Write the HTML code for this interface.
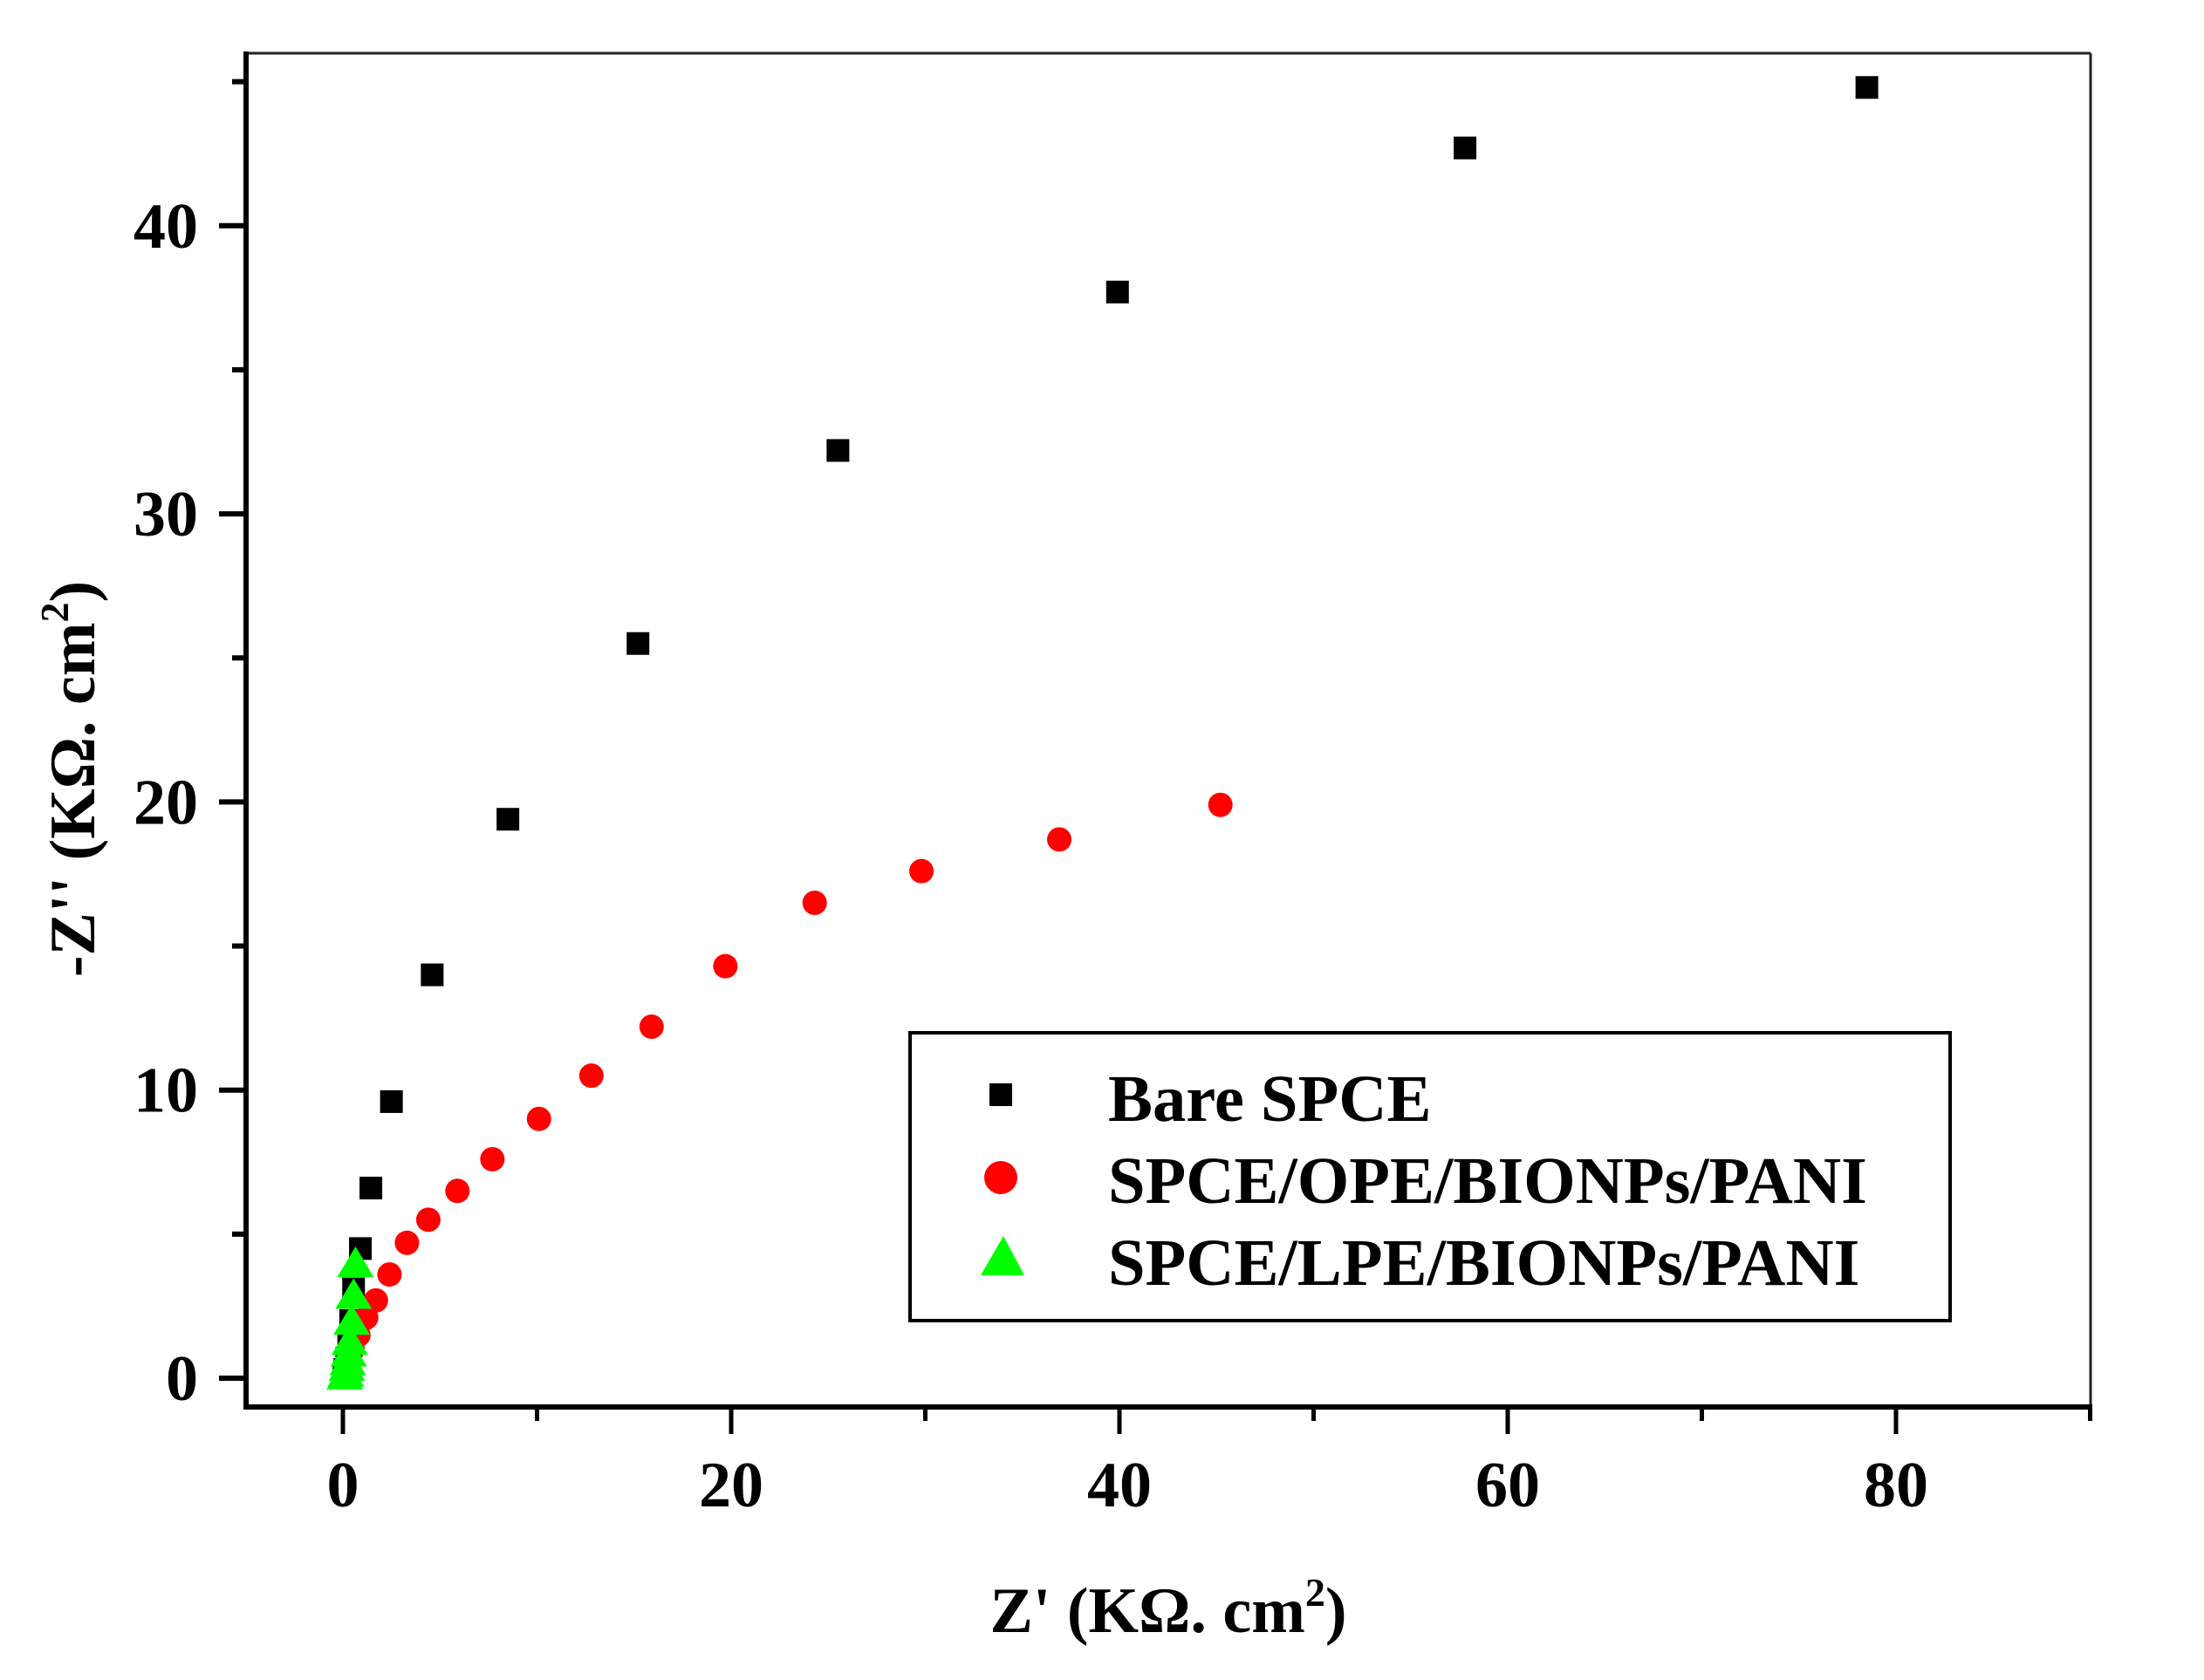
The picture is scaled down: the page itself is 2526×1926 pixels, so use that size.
<!DOCTYPE html>
<html><head><meta charset="utf-8"><style>
html,body{margin:0;padding:0;background:#fff;}
svg{display:block;}
text{font-family:"Liberation Serif",serif;font-weight:bold;fill:#000;}
</style></head><body>
<svg id="chart" width="2526" height="1926" viewBox="0 0 2526 1926" xmlns="http://www.w3.org/2000/svg">
<rect x="0" y="0" width="2526" height="1926" fill="#fff"/>
<g id="plot"></g>
<g id="axes"></g>
<g id="legend">
  <rect x="1043" y="1184" width="1192" height="330" fill="#fff" stroke="#000" stroke-width="4"/>
  <rect x="1134" y="1242" width="26" height="26" fill="#000"/>
  <text x="1270" y="1285" font-size="76.5">Bare SPCE</text>
  <circle cx="1147" cy="1350" r="19" fill="#f00"/>
  <text x="1270" y="1379" font-size="76.5">SPCE/OPE/BIONPs/PANI</text>
  <polygon points="1150,1417 1174,1462 1124,1462" fill="#0f0"/>
  <text x="1270" y="1473" font-size="76.5">SPCE/LPE/BIONPs/PANI</text>
</g>
<text x="1339" y="1871" font-size="74" text-anchor="middle">Z' (KΩ. cm<tspan dy="-30" font-size="46">2</tspan><tspan dy="30">)</tspan></text>
<text transform="translate(108,893) rotate(-90)" font-size="74" text-anchor="middle">-Z'' (KΩ. cm<tspan dy="-30" font-size="46">2</tspan><tspan dy="30">)</tspan></text>
</svg>
<script>
const bareX = [78.5,57.8,39.9,25.5,15.2,8.5,4.6,2.5,1.44,0.9,0.55,0.4,0.3,0.2,0.1,0.05];
const bareY = [44.8,42.7,37.7,32.2,25.5,19.4,14.0,9.6,6.6,4.5,3.1,2.0,1.3,0.7,0.3,0.1];
const opeX = [45.2,36.9,29.8,24.3,19.7,15.9,12.8,10.1,7.7,5.9,4.4,3.3,2.4,1.7,1.2,0.8,0.5,0.35,0.2,0.1];
const opeY = [19.9,18.7,17.6,16.5,14.3,12.2,10.5,9.0,7.6,6.5,5.5,4.7,3.6,2.7,2.1,1.5,1.0,0.6,0.3,0.1];
const lpeX = [0.65,0.55,0.45,0.35,0.3,0.25,0.2,0.15,0.1];
const lpeY = [3.9,2.8,1.9,1.2,0.8,0.5,0.3,0.1,0.0];
const xTicks = [0,20,40,60,80];
const yTicks = [0,10,20,30,40];
const xMinor = [10,30,50,70,90];
const yMinor = [5,15,25,35,45];

const NS = 'http://www.w3.org/2000/svg';
const L = 282, R = 2396, T = 61, B = 1613;
function sx(v){ return 393 + v * 22.25; }
function sy(v){ return 1580 - v * 33.03; }
function mk(tag, attrs, parent){ const e = document.createElementNS(NS, tag); for (const k in attrs) e.setAttribute(k, attrs[k]); parent.appendChild(e); return e; }
const plot = document.getElementById('plot');
const axes = document.getElementById('axes');

let e = mk('line', {x1:L, y1:T, x2:R, y2:T, stroke:'#222', 'stroke-width':3}, axes);


e = mk('line', {x1:R, y1:T, x2:R, y2:B, stroke:'#222', 'stroke-width':3}, axes);


e = mk('line', {x1:L, y1:T-2, x2:L, y2:B+3, stroke:'#000', 'stroke-width':6}, axes);


e = mk('line', {x1:L-3, y1:B, x2:R+2, y2:B, stroke:'#000', 'stroke-width':6}, axes);



xTicks.forEach(v => {
  let t = mk('line', {x1:sx(v), y1:B, x2:sx(v), y2:B+31, stroke:'#000', 'stroke-width':5}, axes);
  
  
  let l = mk('text', {x:sx(v), y:1727, 'font-size':74, 'text-anchor':'middle'}, axes);
  l.textContent = v;
  
  
});
xMinor.forEach(v => {
  let t = mk('line', {x1:sx(v), y1:B, x2:sx(v), y2:B+16, stroke:'#000', 'stroke-width':5}, axes);
  
  
});
yTicks.forEach(v => {
  let t = mk('line', {x1:L-31, y1:sy(v), x2:L, y2:sy(v), stroke:'#000', 'stroke-width':6}, axes);
  
  
  let l = mk('text', {x:227, y:sy(v)+25, 'font-size':74, 'text-anchor':'end'}, axes);
  l.textContent = v;
  
  
});
yMinor.forEach(v => {
  let t = mk('line', {x1:L-16, y1:sy(v), x2:L, y2:sy(v), stroke:'#000', 'stroke-width':6}, axes);
  
  
});

bareX.forEach((v, i) => {
  let m = mk('rect', {x:sx(v)-13, y:sy(bareY[i])-13, width:26, height:26, fill:'#000'}, plot);
  
  
});
opeX.forEach((v, i) => {
  let m = mk('circle', {cx:sx(v), cy:sy(opeY[i]), r:14, fill:'#f00'}, plot);
  
  
});
lpeX.forEach((v, i) => {
  const cx = sx(v), cy = sy(lpeY[i]);
  let m = mk('polygon', {points:`${cx},${cy-22} ${cx+21},${cy+13} ${cx-21},${cy+13}`, fill:'#0f0'}, plot);
  
  
});
</script>
</body></html>
